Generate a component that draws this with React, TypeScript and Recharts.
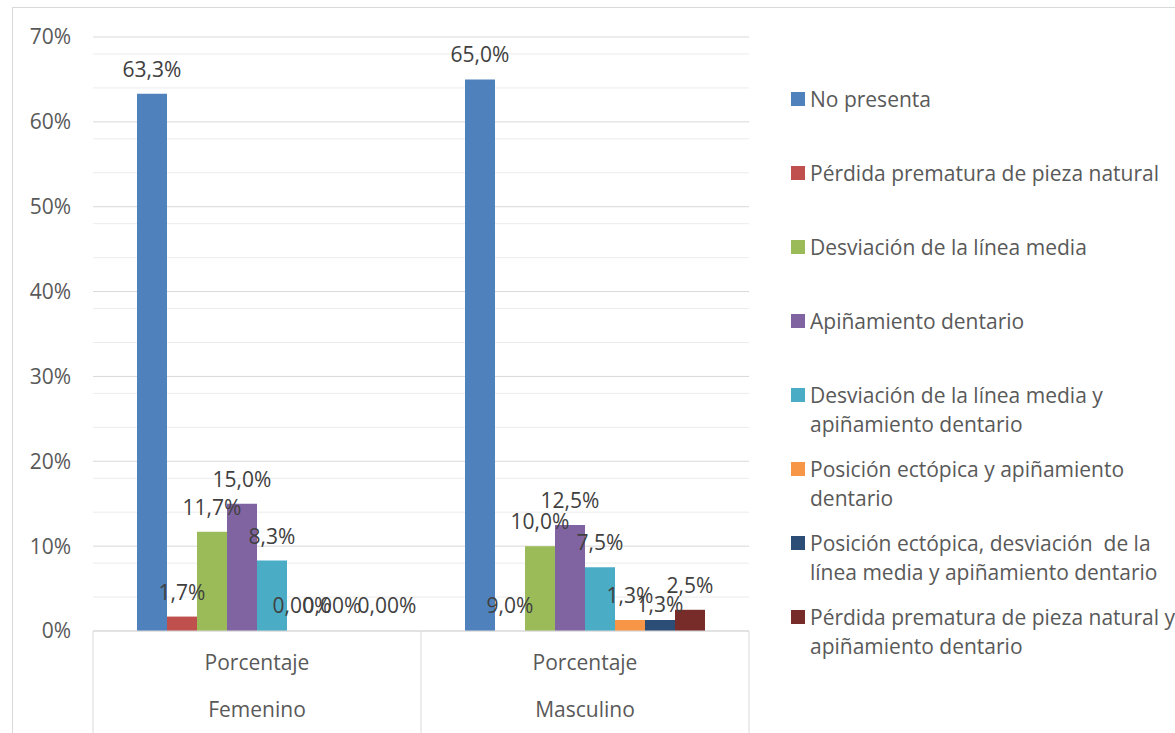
import React from "react";
import { BarChart, Bar, XAxis, YAxis, CartesianGrid, Legend, LabelList, Rectangle } from "recharts";

const categories = ["Femenino", "Masculino"];
const subCategory = "Porcentaje";

const seriesNames = [
  "No presenta",
  "Pérdida prematura de pieza natural",
  "Desviación de la línea media",
  "Apiñamiento dentario",
  "Desviación de la línea media y apiñamiento dentario",
  "Posición ectópica y apiñamiento dentario",
  "Posición ectópica, desviación  de la línea media y apiñamiento dentario",
  "Pérdida prematura de pieza natural y apiñamiento dentario",
];

const noPresenta = [63.3, 65.0];
const perdida = [1.7, 0];
const desviacion = [11.7, 10.0];
const apinamiento = [15.0, 12.5];
const desvApin = [8.3, 7.5];
const ectApin = [0, 1.3];
const ectDesvApin = [0, 1.3];
const perdApin = [0, 2.5];

const seriesValues = [noPresenta, perdida, desviacion, apinamiento, desvApin, ectApin, ectDesvApin, perdApin];

const labelTexts = [
  ["63,3%", "65,0%"],
  ["1,7%", "9,0%"],
  ["11,7%", "10,0%"],
  ["15,0%", "12,5%"],
  ["8,3%", "7,5%"],
  ["0,00%", "1,3%"],
  ["0,00%", "1,3%"],
  ["0,00%", "2,5%"],
];

const yTicks = [0, 10, 20, 30, 40, 50, 60, 70];
const minorTicks = [2, 4, 6, 8, 12, 14, 16, 18, 22, 24, 26, 28, 32, 34, 36, 38, 42, 44, 46, 48, 52, 54, 56, 58, 62, 64, 66, 68];

const colors = ["#4F81BD", "#C0504D", "#9BBB59", "#8064A2", "#4BACC6", "#F79646", "#2C4D75", "#772C2A"];

// label nudges to mimic overlap avoidance (series index - category index -> [dx, dy])
const labelNudges: Record<string, [number, number]> = {
  "7-0": [25, 0],
  "6-1": [0, 9],
};

const data = categories.map((c, ci) => {
  const row: Record<string, any> = { category: c };
  seriesValues.forEach((arr, si) => {
    row["s" + si] = arr[ci];
  });
  return row;
});

const FONT = "'Open Sans', sans-serif";
const FS = 21;

function wrapText(text: string, maxChars: number): string[] {
  const words = text.split(" ");
  const lines: string[] = [];
  let cur = "";
  words.forEach((w, i) => {
    const candidate = i === 0 ? w : cur + " " + w;
    if (candidate.length > maxChars && cur.trim().length > 0) {
      lines.push(cur);
      cur = w;
    } else {
      cur = candidate;
    }
  });
  if (cur.length) lines.push(cur);
  return lines;
}

const makeLabel = (si: number) => (props: any) => {
  const { x, y, width, index } = props;
  const nudge = labelNudges[`${si}-${index}`] || [0, 0];
  const cx = Number(x) + Number(width) / 2 + nudge[0];
  const cy = Number(y) - 25 + nudge[1];
  return (
    <text
      x={cx}
      y={cy}
      textAnchor="middle"
      dominantBaseline="central"
      fill="#404040"
      fontSize={FS}
      fontFamily={FONT}
    >
      {labelTexts[si][index]}
    </text>
  );
};

const makeShape = (si: number) => (props: any) => {
  const v = props.payload ? props.payload["s" + si] : props.value;
  if (!v) return <g />;
  return <Rectangle {...props} />;
};

const XTick = (props: any) => {
  const { x, y, payload, index } = props;
  const half = payload && payload.offset ? payload.offset : 164;
  return (
    <g>
      <line x1={x - half} y1={y} x2={x - half} y2={y + 110} stroke="#d9d9d9" strokeWidth={1} />
      {index === categories.length - 1 && (
        <line x1={x + half} y1={y} x2={x + half} y2={y + 110} stroke="#d9d9d9" strokeWidth={1} />
      )}
      <text x={x} y={y + 31} textAnchor="middle" dominantBaseline="central" fill="#595959" fontSize={FS} fontFamily={FONT}>
        {subCategory}
      </text>
      <text x={x} y={y + 78} textAnchor="middle" dominantBaseline="central" fill="#595959" fontSize={FS} fontFamily={FONT}>
        {payload.value}
      </text>
    </g>
  );
};

const LegendContent = (props: any) => {
  const payload = [...(props.payload || [])].sort(
    (a: any, b: any) => seriesNames.indexOf(String(a.value)) - seriesNames.indexOf(String(b.value))
  );
  return (
    <div style={{ position: "relative", width: 395, height: 733, fontFamily: FONT }}>
      {payload.map((entry: any, i: number) => {
        const lines = wrapText(String(entry.value), 38);
        const centerY = 99 + i * 74;
        return (
          <div key={i} style={{ position: "absolute", left: 0, top: centerY - 14 }}>
            <div
              style={{
                position: "absolute",
                left: 11,
                top: 7,
                width: 14,
                height: 14,
                background: entry.color,
              }}
            />
            {lines.map((ln, li) => (
              <div
                key={li}
                style={{
                  position: "absolute",
                  left: 30,
                  top: li * 28.5,
                  height: 28,
                  lineHeight: "28px",
                  fontSize: FS,
                  color: "#595959",
                  whiteSpace: "pre",
                }}
              >
                {ln}
              </div>
            ))}
          </div>
        );
      })}
    </div>
  );
};

export default function App() {
  return (
    <div style={{ position: "absolute", left: 0, top: 0, width: 1175, height: 733, overflow: "hidden", background: "#fff", fontFamily: FONT }}>
      <div
        style={{
          position: "absolute",
          left: 12,
          top: 7,
          width: 1200,
          height: 800,
          borderLeft: "1px solid #d9d9d9",
          borderTop: "1px solid #d9d9d9",
        }}
      />
      <BarChart
        width={1175}
        height={733}
        data={data}
        margin={{ top: 37, right: 426, bottom: 0, left: 13 }}
        barCategoryGap={44}
        barGap={0}
      >
        <CartesianGrid vertical={false} horizontalValues={minorTicks} stroke="#ececec" strokeWidth={1} />
        <CartesianGrid vertical={false} stroke="#d9d9d9" strokeWidth={1} />
        <XAxis
          dataKey="category"
          height={102}
          tickLine={false}
          tickSize={0}
          tickMargin={0}
          axisLine={{ stroke: "#d9d9d9" }}
          tick={<XTick />}
          interval={0}
        />
        <YAxis
          width={80}
          domain={[0, 70]}
          ticks={yTicks}
          tickFormatter={(v: number) => `${v}%`}
          axisLine={false}
          tickLine={false}
          tickSize={0}
          tickMargin={22}
          tick={{ fill: "#595959", fontSize: FS, fontFamily: FONT }}
        />
        <Legend
          layout="horizontal"
          verticalAlign="middle"
          align="center"
          itemSorter={null as any}
          wrapperStyle={{ position: "absolute", left: 780, top: 0, width: 395, height: 733 }}
          content={<LegendContent />}
        />
        {seriesNames.map((name, si) => (
          <Bar
            key={name}
            dataKey={"s" + si}
            name={name}
            fill={colors[si]}
            minPointSize={1}
            shape={makeShape(si)}
            isAnimationActive={false}
          >
            <LabelList dataKey={"s" + si} content={makeLabel(si)} />
          </Bar>
        ))}
      </BarChart>
    </div>
  );
}
